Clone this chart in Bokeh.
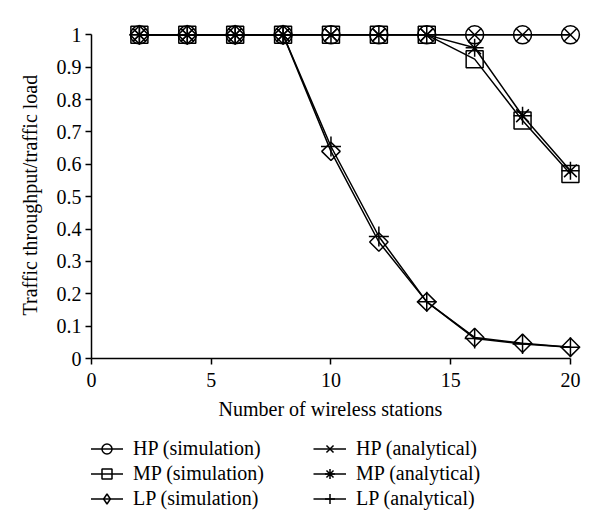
import math
from bokeh.plotting import figure
from bokeh.layouts import column
from bokeh.models import Range1d, FixedTicker, CustomJSTickFormatter, Legend, LegendItem, Title
from bokeh.embed import file_html
from bokeh.resources import INLINE

stations = [2, 4, 6, 8, 10, 12, 14, 16, 18, 20]
hp_sim = [1, 1, 1, 1, 1, 1, 1, 1, 1, 1]
mp_sim = [1, 1, 1, 1, 1, 1, 1, 0.925, 0.735, 0.57]
lp_sim = [1, 1, 1, 1, 0.64, 0.36, 0.175, 0.065, 0.047, 0.035]
hp_ana = [1, 1, 1, 1, 1, 1, 1, 1, 1, 1]
mp_ana = [1, 1, 1, 1, 1, 1, 1, 0.96, 0.75, 0.58]
lp_ana = [1, 1, 1, 1, 0.655, 0.377, 0.175, 0.062, 0.045, 0.035]

x_ticks = [0, 5, 10, 15, 20]
y_ticks = [0, 0.1, 0.2, 0.3, 0.4, 0.5, 0.6, 0.7, 0.8, 0.9, 1.0]

FONT = "Liberation Serif"
FS = "20px"

p = figure(width=584, height=430, output_backend="svg", toolbar_location=None,
           x_range=Range1d(0, 20.42), y_range=Range1d(0, 1.032),
           min_border_left=91, min_border_right=4, min_border_top=24, min_border_bottom=72)
p.outline_line_color = None
p.grid.visible = False

for ax in (p.xaxis[0], p.yaxis[0]):
    ax.axis_line_color = "black"
    ax.axis_line_width = 1.5
    ax.major_tick_line_color = "black"
    ax.major_tick_line_width = 1.5
    ax.major_tick_in = 0
    ax.major_tick_out = 6
    ax.minor_tick_line_color = None
    ax.major_label_text_font = FONT
    ax.major_label_text_font_size = FS
    ax.major_label_text_color = "black"

p.xaxis.bounds = (0, 20)
p.yaxis.bounds = (0, 1)
p.xaxis.ticker = FixedTicker(ticks=x_ticks)
p.yaxis.ticker = FixedTicker(ticks=y_ticks)
p.yaxis.formatter = CustomJSTickFormatter(code="return String(Math.round(tick*10)/10);")
p.xaxis.major_label_standoff = 8
p.yaxis.major_label_standoff = 4

# axis titles placed as side-panel titles so they centre on the 0..20 / 0..1 spans
p.add_layout(Title(text="Number of wireless stations", align="left", offset=127,
                   vertical_align="top", standoff=16, text_font=FONT, text_font_size=FS,
                   text_font_style="normal", text_color="black"), "below")
p.add_layout(Title(text="Traffic throughput/traffic load", align="left", offset=43,
                   vertical_align="bottom", standoff=26, text_font=FONT, text_font_size=FS,
                   text_font_style="normal", text_color="black"), "left")

LW = 1.5
series = [
    ("HP (simulation)", hp_sim, "circle", 18, 0, "circle"),
    ("MP (simulation)", mp_sim, "square", 17, 0, "square"),
    ("LP (simulation)", lp_sim, "square", 13, math.pi / 4, "diamond"),
    ("HP (analytical)", hp_ana, "x", 18, 0, "x"),
    ("MP (analytical)", mp_ana, "asterisk", 18, 0, "asterisk"),
    ("LP (analytical)", lp_ana, "cross", 20, 0, "cross"),
]

# legend-only figure below the plot (its ranges keep its copies of the series out of view)
q = figure(width=584, height=85, output_backend="svg", toolbar_location=None,
           x_range=Range1d(-1, 0), y_range=Range1d(-1, 0),
           x_axis_type=None, y_axis_type=None,
           min_border_left=0, min_border_right=0, min_border_top=0, min_border_bottom=0)
q.outline_line_color = None
q.grid.visible = False

items = []
for label, ys, marker, size, ang, leg_marker in series:
    p.line(stations, ys, line_color="black", line_width=LW)
    p.scatter(stations, ys, marker=marker, size=size, angle=ang,
              line_color="black", line_width=LW, fill_color=None)
    lr = q.line(stations, ys, line_color="black", line_width=LW)
    sr = q.scatter(stations, ys, marker=leg_marker, line_color="black",
                   line_width=LW, fill_color=None)
    items.append(LegendItem(label=label, renderers=[lr, sr]))

common = dict(border_line_color=None, background_fill_alpha=0, padding=0, margin=0,
              label_text_font=FONT, label_text_font_size=FS, label_text_color="black",
              glyph_width=33, glyph_height=25, label_height=25, spacing=0, label_standoff=10)
q.add_layout(Legend(items=items[:3], location=(-1, 4), **common), "center")
q.add_layout(Legend(items=items[3:], location=(222, 4), **common), "center")

open("out.html", "w").write(file_html(column(p, q, spacing=0), INLINE))
